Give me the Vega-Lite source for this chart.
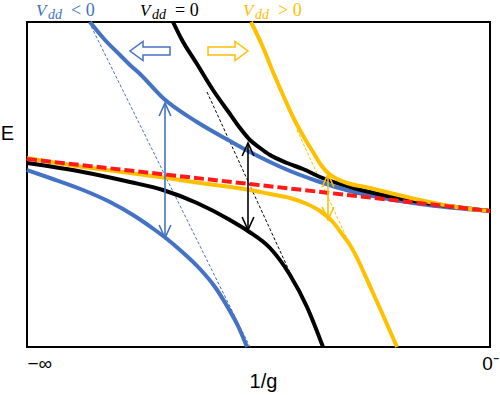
{
  "$schema": "https://vega.github.io/schema/vega-lite/v6.json",
  "width": 463,
  "height": 325,
  "autosize": "none",
  "padding": {"left": 27, "top": 22, "right": 10, "bottom": 48},
  "background": "white",
  "config": {"view": {"stroke": "black", "strokeWidth": 2}},
  "datasets": {
    "curves": [
      {"curve": "neg_up", "series": "neg", "x": 63, "y": 325},
      {"curve": "neg_up", "series": "neg", "x": 78, "y": 307},
      {"curve": "neg_up", "series": "neg", "x": 93, "y": 292},
      {"curve": "neg_up", "series": "neg", "x": 103, "y": 282},
      {"curve": "neg_up", "series": "neg", "x": 113, "y": 273},
      {"curve": "neg_up", "series": "neg", "x": 136, "y": 249},
      {"curve": "neg_up", "series": "neg", "x": 170, "y": 225},
      {"curve": "neg_up", "series": "neg", "x": 203, "y": 206},
      {"curve": "neg_up", "series": "neg", "x": 223, "y": 195},
      {"curve": "neg_up", "series": "neg", "x": 243, "y": 185},
      {"curve": "neg_up", "series": "neg", "x": 256, "y": 179},
      {"curve": "neg_up", "series": "neg", "x": 290, "y": 166},
      {"curve": "neg_up", "series": "neg", "x": 323, "y": 156},
      {"curve": "neg_up", "series": "neg", "x": 356, "y": 149},
      {"curve": "neg_up", "series": "neg", "x": 393, "y": 143},
      {"curve": "neg_up", "series": "neg", "x": 463, "y": 136},
      {"curve": "neg_lo", "series": "neg", "x": 0, "y": 177},
      {"curve": "neg_lo", "series": "neg", "x": 23, "y": 169},
      {"curve": "neg_lo", "series": "neg", "x": 56, "y": 157},
      {"curve": "neg_lo", "series": "neg", "x": 83, "y": 145},
      {"curve": "neg_lo", "series": "neg", "x": 106, "y": 132},
      {"curve": "neg_lo", "series": "neg", "x": 128, "y": 117},
      {"curve": "neg_lo", "series": "neg", "x": 140, "y": 108},
      {"curve": "neg_lo", "series": "neg", "x": 153, "y": 97},
      {"curve": "neg_lo", "series": "neg", "x": 173, "y": 78},
      {"curve": "neg_lo", "series": "neg", "x": 188, "y": 60},
      {"curve": "neg_lo", "series": "neg", "x": 200, "y": 41},
      {"curve": "neg_lo", "series": "neg", "x": 211, "y": 21},
      {"curve": "neg_lo", "series": "neg", "x": 220, "y": 0},
      {"curve": "zero_up", "series": "zero", "x": 146, "y": 325},
      {"curve": "zero_up", "series": "zero", "x": 155, "y": 307},
      {"curve": "zero_up", "series": "zero", "x": 170, "y": 283},
      {"curve": "zero_up", "series": "zero", "x": 186, "y": 257},
      {"curve": "zero_up", "series": "zero", "x": 203, "y": 233},
      {"curve": "zero_up", "series": "zero", "x": 213, "y": 219},
      {"curve": "zero_up", "series": "zero", "x": 223, "y": 207},
      {"curve": "zero_up", "series": "zero", "x": 233, "y": 199},
      {"curve": "zero_up", "series": "zero", "x": 243, "y": 192},
      {"curve": "zero_up", "series": "zero", "x": 260, "y": 184},
      {"curve": "zero_up", "series": "zero", "x": 276, "y": 178},
      {"curve": "zero_up", "series": "zero", "x": 293, "y": 170},
      {"curve": "zero_up", "series": "zero", "x": 323, "y": 160},
      {"curve": "zero_up", "series": "zero", "x": 356, "y": 152},
      {"curve": "zero_up", "series": "zero", "x": 393, "y": 145},
      {"curve": "zero_up", "series": "zero", "x": 463, "y": 136},
      {"curve": "zero_lo", "series": "zero", "x": 0, "y": 184},
      {"curve": "zero_lo", "series": "zero", "x": 56, "y": 175},
      {"curve": "zero_lo", "series": "zero", "x": 103, "y": 165},
      {"curve": "zero_lo", "series": "zero", "x": 136, "y": 157},
      {"curve": "zero_lo", "series": "zero", "x": 170, "y": 144},
      {"curve": "zero_lo", "series": "zero", "x": 203, "y": 127},
      {"curve": "zero_lo", "series": "zero", "x": 221, "y": 116},
      {"curve": "zero_lo", "series": "zero", "x": 243, "y": 99},
      {"curve": "zero_lo", "series": "zero", "x": 263, "y": 72},
      {"curve": "zero_lo", "series": "zero", "x": 280, "y": 40},
      {"curve": "zero_lo", "series": "zero", "x": 296, "y": 0},
      {"curve": "pos_up", "series": "pos", "x": 224, "y": 325},
      {"curve": "pos_up", "series": "pos", "x": 235, "y": 302},
      {"curve": "pos_up", "series": "pos", "x": 246, "y": 275},
      {"curve": "pos_up", "series": "pos", "x": 256, "y": 252},
      {"curve": "pos_up", "series": "pos", "x": 266, "y": 230},
      {"curve": "pos_up", "series": "pos", "x": 278, "y": 208},
      {"curve": "pos_up", "series": "pos", "x": 286, "y": 195},
      {"curve": "pos_up", "series": "pos", "x": 294, "y": 182},
      {"curve": "pos_up", "series": "pos", "x": 301, "y": 174},
      {"curve": "pos_up", "series": "pos", "x": 310, "y": 168},
      {"curve": "pos_up", "series": "pos", "x": 320, "y": 164},
      {"curve": "pos_up", "series": "pos", "x": 343, "y": 159},
      {"curve": "pos_up", "series": "pos", "x": 363, "y": 154},
      {"curve": "pos_up", "series": "pos", "x": 393, "y": 147},
      {"curve": "pos_up", "series": "pos", "x": 423, "y": 141},
      {"curve": "pos_up", "series": "pos", "x": 463, "y": 136},
      {"curve": "pos_lo", "series": "pos", "x": 0, "y": 189},
      {"curve": "pos_lo", "series": "pos", "x": 56, "y": 180},
      {"curve": "pos_lo", "series": "pos", "x": 103, "y": 174},
      {"curve": "pos_lo", "series": "pos", "x": 140, "y": 169},
      {"curve": "pos_lo", "series": "pos", "x": 173, "y": 164},
      {"curve": "pos_lo", "series": "pos", "x": 223, "y": 157},
      {"curve": "pos_lo", "series": "pos", "x": 243, "y": 153},
      {"curve": "pos_lo", "series": "pos", "x": 263, "y": 149},
      {"curve": "pos_lo", "series": "pos", "x": 280, "y": 143},
      {"curve": "pos_lo", "series": "pos", "x": 293, "y": 136},
      {"curve": "pos_lo", "series": "pos", "x": 305, "y": 126},
      {"curve": "pos_lo", "series": "pos", "x": 315, "y": 113},
      {"curve": "pos_lo", "series": "pos", "x": 323, "y": 102},
      {"curve": "pos_lo", "series": "pos", "x": 346, "y": 54},
      {"curve": "pos_lo", "series": "pos", "x": 370, "y": 0}
    ],
    "diabatic": [{"x": 0, "y": 188}, {"x": 463, "y": 136}],
    "guides": [
      {"series": "neg", "x": 62, "y": 325},
      {"series": "neg", "x": 223, "y": 0},
      {"series": "zero", "x": 180, "y": 255},
      {"series": "zero", "x": 265, "y": 70},
      {"series": "pos", "x": 270, "y": 217},
      {"series": "pos", "x": 323, "y": 102}
    ],
    "gaps": [
      {"series": "neg", "x": 138, "top": 244, "bottom": 109},
      {"series": "zero", "x": 221, "top": 204, "bottom": 117},
      {"series": "pos", "x": 301, "top": 173, "bottom": 127}
    ],
    "shifts": [
      {"series": "neg", "dir": "left", "x": 123, "y": 296},
      {"series": "pos", "dir": "right", "x": 201, "y": 296}
    ],
    "labels": [
      {"series": "neg", "x": 9, "y": 331, "rel": "< 0"},
      {"series": "zero", "x": 113, "y": 331, "rel": "= 0"},
      {"series": "pos", "x": 216, "y": 331, "rel": "> 0"}
    ]
  },
  "encoding": {
    "x": {
      "field": "x", "type": "quantitative",
      "scale": {"domain": [0, 463], "nice": false, "zero": false},
      "axis": {
        "values": [0, 463],
        "labelExpr": "datum.value == 0 ? '−∞' : '0⁻'",
        "ticks": false, "domain": false, "grid": false,
        "labelFont": "Liberation Sans", "labelFontSize": 19, "labelColor": "black",
        "labelBaseline": "alphabetic", "labelPadding": 22,
        "labelAlign": {"condition": {"test": "datum.value == 0", "value": "left"}, "value": "center"},
        "title": "1/g", "titleFont": "Liberation Sans", "titleFontSize": 20, "titleFontWeight": "normal",
        "titleColor": "black", "titleX": 236, "titleY": 40, "titleBaseline": "alphabetic"
      }
    },
    "y": {
      "field": "y", "type": "quantitative",
      "scale": {"domain": [0, 325], "nice": false, "zero": false},
      "axis": {
        "ticks": false, "labels": false, "domain": false, "grid": false,
        "title": "E", "titleAngle": 0, "titleFont": "Liberation Sans", "titleFontSize": 20,
        "titleFontWeight": "normal", "titleColor": "black",
        "titleX": -20, "titleY": 111, "titleAlign": "center", "titleBaseline": "middle"
      }
    },
    "color": {
      "field": "series", "type": "nominal",
      "scale": {"domain": ["neg", "zero", "pos"], "range": ["#4472C4", "#000000", "#FFC000"]},
      "legend": null
    }
  },
  "layer": [
    {
      "data": {"name": "guides"},
      "mark": {"type": "line", "strokeWidth": 1, "strokeDash": [3, 2]},
      "encoding": {"detail": {"field": "series"}}
    },
    {
      "data": {"name": "curves"},
      "mark": {"type": "line", "strokeWidth": 4, "strokeCap": "butt", "interpolate": "monotone"},
      "encoding": {"detail": {"field": "curve"}}
    },
    {
      "data": {"name": "diabatic"},
      "mark": {"type": "line", "strokeWidth": 4, "strokeDash": [10, 4]},
      "encoding": {"color": {"value": "#FF1A1A"}}
    },
    {
      "data": {"name": "gaps"},
      "mark": {"type": "rule", "strokeWidth": 1.6},
      "encoding": {"y": {"field": "top", "type": "quantitative"}, "y2": {"field": "bottom"}}
    },
    {
      "data": {"name": "gaps"},
      "mark": {"type": "point", "filled": false, "strokeWidth": 1.6, "opacity": 1, "size": 676, "shape": "M-0.45,1L0,0L0.45,1"},
      "encoding": {"y": {"field": "top", "type": "quantitative"}}
    },
    {
      "data": {"name": "gaps"},
      "mark": {"type": "point", "filled": false, "strokeWidth": 1.6, "opacity": 1, "size": 676, "shape": "M-0.45,-1L0,0L0.45,-1"},
      "encoding": {"y": {"field": "bottom", "type": "quantitative"}}
    },
    {
      "data": {"name": "shifts"},
      "mark": {"type": "point", "filled": false, "strokeWidth": 1.5, "opacity": 1, "size": 1600},
      "encoding": {
        "shape": {
          "field": "dir", "type": "nominal", "legend": null,
          "scale": {
            "domain": ["left", "right"],
            "range": [
              "M1,-0.2L-0.35,-0.2L-0.35,-0.48L-1,0L-0.35,0.48L-0.35,0.2L1,0.2Z",
              "M-1,-0.2L0.35,-0.2L0.35,-0.48L1,0L0.35,0.48L0.35,0.2L-1,0.2Z"
            ]
          }
        }
      }
    },
    {
      "data": {"name": "labels"},
      "mark": {"type": "text", "align": "left", "baseline": "alphabetic", "font": "Liberation Serif", "fontStyle": "italic", "fontSize": 17},
      "encoding": {"text": {"value": "V"}}
    },
    {
      "data": {"name": "labels"},
      "mark": {"type": "text", "align": "left", "baseline": "alphabetic", "font": "Liberation Serif", "fontStyle": "italic", "fontSize": 14, "dx": 12, "dy": 3},
      "encoding": {"text": {"value": "dd"}}
    },
    {
      "data": {"name": "labels"},
      "mark": {"type": "text", "align": "left", "baseline": "alphabetic", "font": "Liberation Serif", "fontSize": 18, "dx": 35, "dy": 0},
      "encoding": {"text": {"field": "rel"}}
    }
  ]
}
